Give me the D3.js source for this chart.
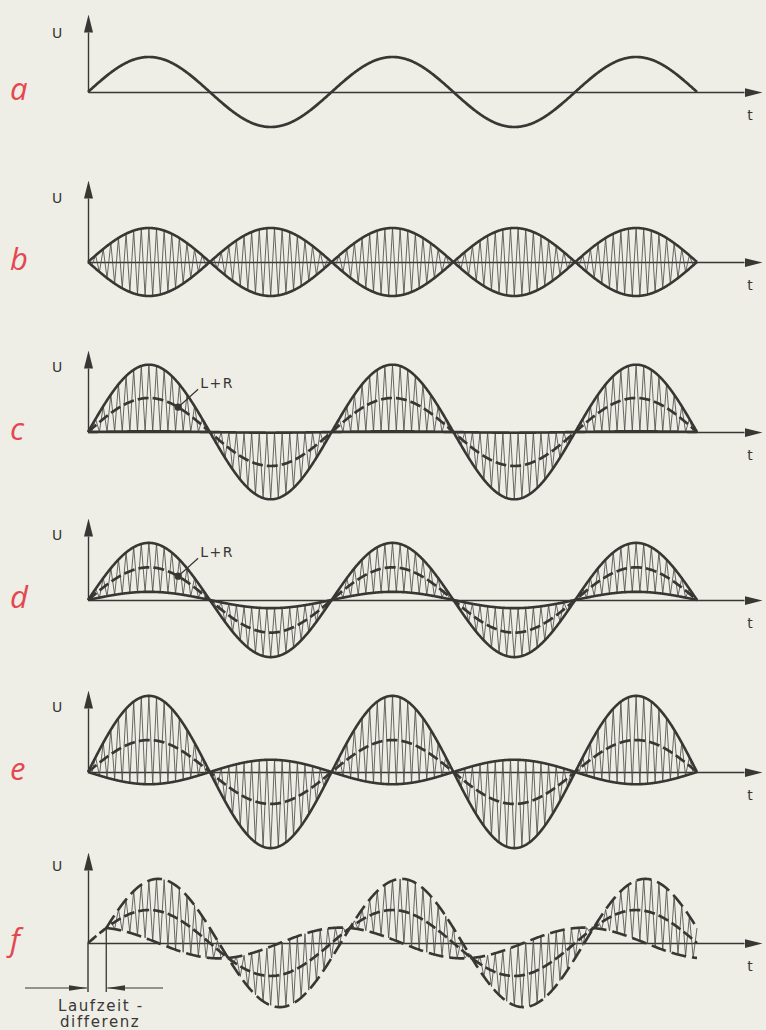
<!DOCTYPE html>
<html>
<head>
<meta charset="utf-8">
<script src="https://cdn.jsdelivr.net/npm/d3@7"></script>
<style>
  body { margin: 0; background: #eeede6; }
  svg { display: block; }
</style>
</head>
<body>
<svg id="chart" width="766" height="1030"></svg>
<script>
// Panels of the stereo multiplex drawing, top to bottom
const panels = ['a', 'b', 'c', 'd', 'e', 'f'];
// amplitudes in units of the L+R peak of panel c
const sumAmp = [1.03, 0, 1.0, 0.96, 0.94, 0.97];    // L+R (in a: the audio tone itself)
const diffAmp = [0, 1.0, 0.98, 0.72, 1.3, 0.97];    // L-R, riding on the carrier
const diffDelay = [0, 0, 0, 0, 0, 0.15];            // Laufzeitdifferenz, in half periods of the tone
const halfPeriods = 5;
const carrierPerHalf = 16;
const labelPanels = ['c', 'd'];
const labelAt = 0.74;                               // where the L+R pointer touches the curve
const axisNames = ['U', 't'];
const noteLines = ['Laufzeit -', 'differenz'];

const svg = d3.select('#chart');
const ink = '#383733';
const hatch = '#4f4d48';
const red = '#e4474e';

// layout
const baseY = [92, 262, 432, 600, 772, 943];
const axisTop = [14, 180, 350, 518, 690, 852];
const uLabelY = [38, 203, 372, 540, 712, 871];
const unit = 34;
const head = 18;

const x = d3.scaleLinear().domain([0, halfPeriods]).range([88, 697]);
const tAxis = x.copy().domain([0, x.invert(762 - head)]).range([88, 762 - head]);

const defs = svg.append('defs');
defs.append('marker')
    .attr('id', 'head')
    .attr('markerUnits', 'userSpaceOnUse')
    .attr('markerWidth', head).attr('markerHeight', 10)
    .attr('viewBox', `0 -5 ${head} 10`)
    .attr('refX', 0).attr('refY', 0)
    .attr('orient', 'auto')
    .append('path')
    .attr('d', `M0,-4.5L${head},0L0,4.5Z`)
    .attr('fill', ink);
defs.append('marker')
    .attr('id', 'tip')
    .attr('markerUnits', 'userSpaceOnUse')
    .attr('markerWidth', 18).attr('markerHeight', 8)
    .attr('viewBox', '0 -4 18 8')
    .attr('refX', 18).attr('refY', 0)
    .attr('orient', 'auto')
    .append('path')
    .attr('d', 'M0,-2.8L18,0L0,2.8Z')
    .attr('fill', ink);

const fine = d3.range(0, halfPeriods * 200 + 1).map(k => k / 200);

panels.forEach((name, i) => {
    const base = baseY[i];
    const y = d3.scaleLinear().domain([-1, 1]).range([base + unit, base - unit]);
    const g = svg.append('g');

    const sum = t => sumAmp[i] * Math.sin(Math.PI * t);
    const diff = t => diffAmp[i] * Math.sin(Math.PI * (t - diffDelay[i]));
    const t0 = diffDelay[i];
    const line = d3.line().x(d => x(d[0])).y(d => y(d[1]));

    // Axes (no ticks, just arrows)
    g.append('g')
        .attr('transform', `translate(0,${base})`)
        .call(d3.axisBottom(tAxis).tickValues([]).tickSizeOuter(0))
        .call(a => a.select('.domain')
            .attr('stroke', ink).attr('stroke-width', 1.6)
            .attr('marker-end', 'url(#head)'));
    const uAxis = y.copy().domain([0, y.invert(axisTop[i] + head)]).range([base, axisTop[i] + head]);
    g.append('g')
        .attr('transform', 'translate(88,0)')
        .call(d3.axisLeft(uAxis).tickValues([]).tickSizeOuter(0))
        .call(a => a.select('.domain')
            .attr('stroke', ink).attr('stroke-width', 1.4)
            .attr('marker-end', 'url(#head)'));

    // Carrier zigzag between M-S and M+S
    if (diffAmp[i] > 0) {
        const n = 2 * carrierPerHalf;
        const pts = d3.range(Math.ceil(t0 * n), halfPeriods * n + 1)
            .map(k => { const t = k / n; return [t, sum(t) + (k % 2 === 0 ? 1 : -1) * diff(t)]; });
        g.append('path')
            .datum(pts)
            .attr('fill', 'none')
            .attr('stroke', hatch)
            .attr('stroke-width', 0.85)
            .attr('d', line);

        const env = fine.filter(t => t >= t0);
        const dashedEnv = name === 'f';
        [1, -1].forEach(sign => {
            g.append('path')
                .datum(env.map(t => [t, sum(t) + sign * diff(t)]))
                .attr('fill', 'none')
                .attr('stroke', ink)
                .attr('stroke-width', 2.6)
                .attr('stroke-dasharray', dashedEnv ? '15,6' : null)
                .attr('d', line);
        });
    }

    // L+R itself
    if (sumAmp[i] > 0) {
        g.append('path')
            .datum(fine.map(t => [t, sum(t)]))
            .attr('fill', 'none')
            .attr('stroke', ink)
            .attr('stroke-width', 2.7)
            .attr('stroke-dasharray', name === 'a' ? null : '11,4')
            .attr('d', line);
    }

    if (labelPanels.includes(name)) {
        const px = x(labelAt), py = y(sum(labelAt));
        g.append('circle').attr('cx', px).attr('cy', py).attr('r', 3.6).attr('fill', ink);
        g.append('line')
            .attr('x1', px).attr('y1', py).attr('x2', px + 20).attr('y2', py - 18)
            .attr('stroke', ink).attr('stroke-width', 1.2);
        g.append('text')
            .attr('x', px + 22).attr('y', py - 19)
            .attr('font-family', 'DejaVu Sans, sans-serif')
            .attr('font-size', 14)
            .attr('letter-spacing', 1.5)
            .attr('fill', ink)
            .text('L+R');
    }

    // Labels
    g.append('text')
        .attr('x', 10).attr('y', base + 8)
        .attr('font-family', 'Open Sans, sans-serif')
        .attr('font-style', 'italic')
        .attr('font-size', 31)
        .attr('fill', red)
        .text(name);
    g.append('text')
        .attr('x', 57).attr('y', uLabelY[i])
        .attr('text-anchor', 'middle')
        .attr('font-family', 'DejaVu Sans, sans-serif')
        .attr('font-size', 14)
        .attr('fill', ink)
        .text(axisNames[0]);
    g.append('text')
        .attr('x', 750).attr('y', base + 28)
        .attr('text-anchor', 'middle')
        .attr('font-family', 'DejaVu Sans, sans-serif')
        .attr('font-size', 14)
        .attr('fill', ink)
        .text(axisNames[1]);

    // Delay marking under f
    if (t0 > 0) {
        const xd = x(t0);
        g.append('line')
            .attr('x1', x(0)).attr('y1', base).attr('x2', x(0)).attr('y2', 992)
            .attr('stroke', ink).attr('stroke-width', 1.4);
        g.append('line')
            .attr('x1', xd).attr('y1', y(sum(t0))).attr('x2', xd).attr('y2', 992)
            .attr('stroke', ink).attr('stroke-width', 1.3);
        g.append('line')
            .attr('x1', 25).attr('y1', 988).attr('x2', x(0) - 1).attr('y2', 988)
            .attr('stroke', ink).attr('stroke-width', 1.2)
            .attr('marker-end', 'url(#tip)');
        g.append('line')
            .attr('x1', 163).attr('y1', 988).attr('x2', xd + 1).attr('y2', 988)
            .attr('stroke', ink).attr('stroke-width', 1.2)
            .attr('marker-end', 'url(#tip)');
        g.selectAll('.note')
            .data(noteLines)
            .join('text')
            .attr('class', 'note')
            .attr('x', (d, k) => 58 + k * 2)
            .attr('y', (d, k) => 1011 + k * 16)
            .attr('font-family', 'DejaVu Sans, sans-serif')
            .attr('font-size', 15)
            .attr('letter-spacing', 1.6)
            .attr('fill', ink)
            .text(d => d);
    }
});
</script>
</body>
</html>
